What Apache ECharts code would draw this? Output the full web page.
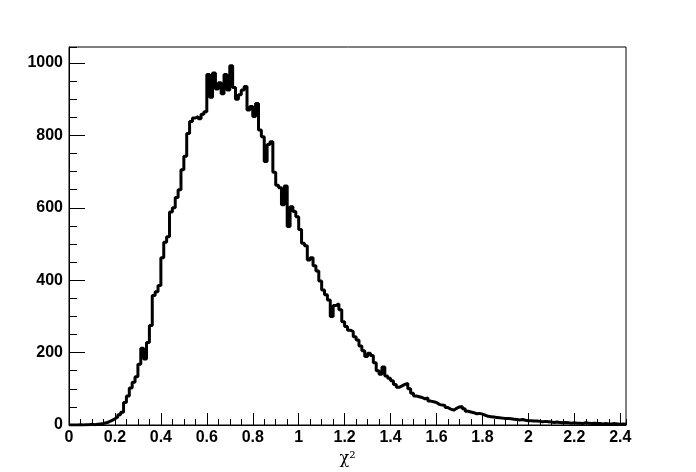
<!DOCTYPE html>
<html>
<head>
<meta charset="utf-8">
<script src="https://cdn.jsdelivr.net/npm/echarts@6/dist/echarts.min.js"></script>
<style>
html,body{margin:0;padding:0;background:#fff;}
#chart{width:696px;height:472px;}
</style>
</head>
<body>
<div id="chart"></div>
<script>
// Histogram of chi^2: bin width 0.0125 from 0 to 2.425
var binStart = 0;
var binWidth = 0.0125;
var counts = [
  0,0,0,1,0,1,1,2,
  1,2,3,4,6,9,13,17,
  22,28,35,62,80,102,118,133,
  168,212,182,228,275,358,368,385,
  462,505,520,588,600,628,650,705,
  742,805,838,848,852,846,858,865,
  968,905,972,928,945,915,968,925,
  992,932,900,912,925,935,870,880,
  852,888,815,796,728,775,782,698,
  662,655,608,660,548,603,590,575,
  540,502,495,456,462,440,425,398,
  373,360,345,300,330,335,318,285,
  272,262,258,244,235,218,205,189,
  198,192,172,150,140,160,135,129,
  122,112,104,108,112,115,100,88,
  80,78,76,72,75,66,64,62,
  57,55,54,48,44,41,46,50,
  51,45,38,36,34,31,32,30,
  27,24,23,22,21,20,19,18,
  18,17,16,15,14,15,13,12,
  12,11,11,10,9,10,9,8,
  7,8,7,6,7,6,5,6,
  5,5,4,6,5,4,5,4,
  4,3,4,3,3,4,3,2,
  3,2
];
var xTickLabels = ['0','0.2','0.4','0.6','0.8','1','1.2','1.4','1.6','1.8','2','2.2','2.4'];
var yTickLabels = ['0','200','400','600','800','1000'];
var xTitle = 'χ²';

var xMax = 2.425;
var yMax = 1044;

var data = [];
for (var i = 0; i < counts.length; i++) {
  data.push([+(binStart + i * binWidth).toFixed(4), counts[i]]);
}
data.push([+(binStart + counts.length * binWidth).toFixed(4), counts[counts.length - 1]]);

var labelFont = {
  fontFamily: 'Liberation Sans, Arial, sans-serif',
  fontWeight: 'bold',
  fontSize: 16,
  color: '#000'
};

function fmtX(v) {
  var s = String(+(+v).toFixed(2));
  return xTickLabels.indexOf(s) >= 0 ? s : '';
}
function fmtY(v) {
  var s = String(Math.round(v));
  return yTickLabels.indexOf(s) >= 0 && Math.abs(v - Math.round(v)) < 1e-6 ? s : '';
}

var chart = echarts.init(document.getElementById('chart'), null, {renderer: 'canvas'});
chart.setOption({
  animation: false,
  backgroundColor: '#fff',
  grid: {
    left: 69, right: 70, top: 47, bottom: 47,
    show: true, borderColor: '#000', borderWidth: 1, backgroundColor: 'transparent'
  },
  xAxis: [{
    type: 'value', min: 0, max: xMax, interval: 0.2, position: 'bottom',
    axisLine: {show: true, onZero: false, lineStyle: {color: '#000', width: 1}},
    axisTick: {show: true, inside: true, length: 12, lineStyle: {color: '#000', width: 1}},
    axisLabel: Object.assign({margin: 5, formatter: fmtX, showMaxLabel: false}, labelFont),
    splitLine: {show: false},
    name: xTitle, nameLocation: 'middle', nameGap: 17,
    nameTextStyle: {fontFamily: 'DejaVu Serif, Liberation Serif, serif', fontSize: 16, color: '#000'}
  }, {
    type: 'value', min: 0, max: xMax, interval: 0.05, position: 'bottom', offset: 0,
    axisLine: {show: false},
    axisTick: {show: true, inside: true, length: 6, lineStyle: {color: '#000', width: 1}},
    axisLabel: {show: false},
    splitLine: {show: false}
  }],
  yAxis: [{
    type: 'value', min: 0, max: yMax, interval: 200, position: 'left',
    axisLine: {show: true, onZero: false, lineStyle: {color: '#000', width: 1}},
    axisTick: {show: true, inside: true, length: 16, lineStyle: {color: '#000', width: 1}},
    axisLabel: Object.assign({margin: 6, formatter: fmtY, showMaxLabel: false}, labelFont),
    splitLine: {show: false}
  }, {
    type: 'value', min: 0, max: yMax, interval: 50, position: 'left', offset: 0,
    axisLine: {show: false},
    axisTick: {show: true, inside: true, length: 8, lineStyle: {color: '#000', width: 1}},
    axisLabel: {show: false},
    splitLine: {show: false}
  }],
  series: [{
    type: 'line',
    xAxisIndex: 0, yAxisIndex: 0,
    step: 'end',
    showSymbol: false,
    symbol: 'none',
    data: data,
    lineStyle: {color: '#000', width: 3},
    clip: true
  }]
});
</script>
</body>
</html>
